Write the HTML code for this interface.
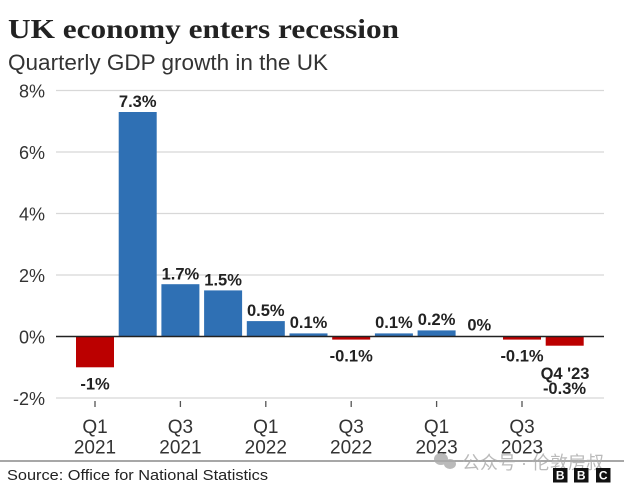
<!DOCTYPE html>
<html><head><meta charset="utf-8"><style>
html,body{margin:0;padding:0;background:#fff;}
svg{display:block;}
</style></head><body>
<svg width="624" height="487" viewBox="0 0 624 487" xmlns="http://www.w3.org/2000/svg">
<rect width="624" height="487" fill="#fff"/>
<text x="8" y="38" font-family="Liberation Serif, serif" font-weight="bold" font-size="27" fill="#222" textLength="391" lengthAdjust="spacingAndGlyphs">UK economy enters recession</text>
<text x="8" y="70" font-family="Liberation Sans, sans-serif" font-size="22" fill="#333" textLength="320" lengthAdjust="spacingAndGlyphs">Quarterly GDP growth in the UK</text>

<g stroke="#d8d8d8" stroke-width="1.3">
<line x1="56" y1="90.5" x2="604" y2="90.5"/>
<line x1="56" y1="152" x2="604" y2="152"/>
<line x1="56" y1="213.5" x2="604" y2="213.5"/>
<line x1="56" y1="275" x2="604" y2="275"/>
<line x1="56" y1="398" x2="604" y2="398"/>
</g>
<g font-family="Liberation Sans, sans-serif" font-size="18" fill="#333" text-anchor="end">
<text x="45" y="97.5">8%</text>
<text x="45" y="159">6%</text>
<text x="45" y="220.5">4%</text>
<text x="45" y="282">2%</text>
<text x="45" y="343.5">0%</text>
<text x="45" y="405">-2%</text>
</g>

<g>
<rect x="76" y="336.5" width="38" height="30.8" fill="#bb0000"/>
<rect x="118.7" y="112" width="38" height="224.5" fill="#2f70b4"/>
<rect x="161.4" y="284.2" width="38" height="52.3" fill="#2f70b4"/>
<rect x="204.1" y="290.4" width="38" height="46.1" fill="#2f70b4"/>
<rect x="246.8" y="321.1" width="38" height="15.4" fill="#2f70b4"/>
<rect x="289.5" y="333.4" width="38" height="3.1" fill="#2f70b4"/>
<rect x="332.2" y="336.5" width="38" height="3.1" fill="#bb0000"/>
<rect x="374.9" y="333.4" width="38" height="3.1" fill="#2f70b4"/>
<rect x="417.6" y="330.4" width="38" height="6.1" fill="#2f70b4"/>
<rect x="503" y="336.5" width="38" height="3.1" fill="#bb0000"/>
<rect x="545.7" y="336.5" width="38" height="9.2" fill="#bb0000"/>
</g>
<line x1="56" y1="336.5" x2="604" y2="336.5" stroke="#222" stroke-width="1.6"/>

<g font-family="Liberation Sans, sans-serif" font-weight="bold" font-size="16.5" fill="#222" text-anchor="middle">
<text x="95" y="389.5">-1%</text>
<text x="137.7" y="107">7.3%</text>
<text x="180.4" y="279.5">1.7%</text>
<text x="223.1" y="285.5">1.5%</text>
<text x="265.8" y="316">0.5%</text>
<text x="308.5" y="328">0.1%</text>
<text x="351.2" y="361.5">-0.1%</text>
<text x="393.9" y="328">0.1%</text>
<text x="436.6" y="325">0.2%</text>
<text x="479.3" y="330.5">0%</text>
<text x="522" y="361.5">-0.1%</text>
<text x="565" y="379">Q4 '23</text>
<text x="564.5" y="394">-0.3%</text>
</g>

<g stroke="#555" stroke-width="1.3">
<line x1="95" y1="401" x2="95" y2="407"/>
<line x1="180.4" y1="401" x2="180.4" y2="407"/>
<line x1="265.8" y1="401" x2="265.8" y2="407"/>
<line x1="351.2" y1="401" x2="351.2" y2="407"/>
<line x1="436.6" y1="401" x2="436.6" y2="407"/>
<line x1="522" y1="401" x2="522" y2="407"/>
</g>
<g font-family="Liberation Sans, sans-serif" font-size="19" fill="#333" text-anchor="middle">
<text x="95" y="433">Q1</text><text x="95" y="453.5">2021</text>
<text x="180.4" y="433">Q3</text><text x="180.4" y="453.5">2021</text>
<text x="265.8" y="433">Q1</text><text x="265.8" y="453.5">2022</text>
<text x="351.2" y="433">Q3</text><text x="351.2" y="453.5">2022</text>
<text x="436.6" y="433">Q1</text><text x="436.6" y="453.5">2023</text>
<text x="522" y="433">Q3</text><text x="522" y="453.5">2023</text>
</g>

<line x1="0" y1="461" x2="624" y2="461" stroke="#8a8a8a" stroke-width="1.5"/>
<text x="7" y="480" font-family="Liberation Sans, sans-serif" font-size="15" fill="#222" textLength="261" lengthAdjust="spacingAndGlyphs">Source: Office for National Statistics</text>

<g opacity="0.8">
<ellipse cx="441" cy="459" rx="7" ry="6" fill="#aaa"/>
<ellipse cx="450" cy="464" rx="6" ry="5" fill="#aaa"/>
<text x="462" y="469" font-family="Liberation Sans, 'Noto Sans CJK SC', sans-serif" font-size="18" fill="#aaa" textLength="142" lengthAdjust="spacingAndGlyphs">公众号 · 伦敦房叔</text>
</g>

<g font-family="Liberation Sans, sans-serif" font-weight="bold" font-size="12" fill="#fff" text-anchor="middle">
<rect x="553" y="468" width="14.5" height="14.5" fill="#111"/>
<rect x="574" y="468" width="14.5" height="14.5" fill="#111"/>
<rect x="596" y="468" width="14.5" height="14.5" fill="#111"/>
<text x="560.2" y="479.5">B</text>
<text x="581.2" y="479.5">B</text>
<text x="603.2" y="479.5">C</text>
</g>
</svg>
</body></html>
